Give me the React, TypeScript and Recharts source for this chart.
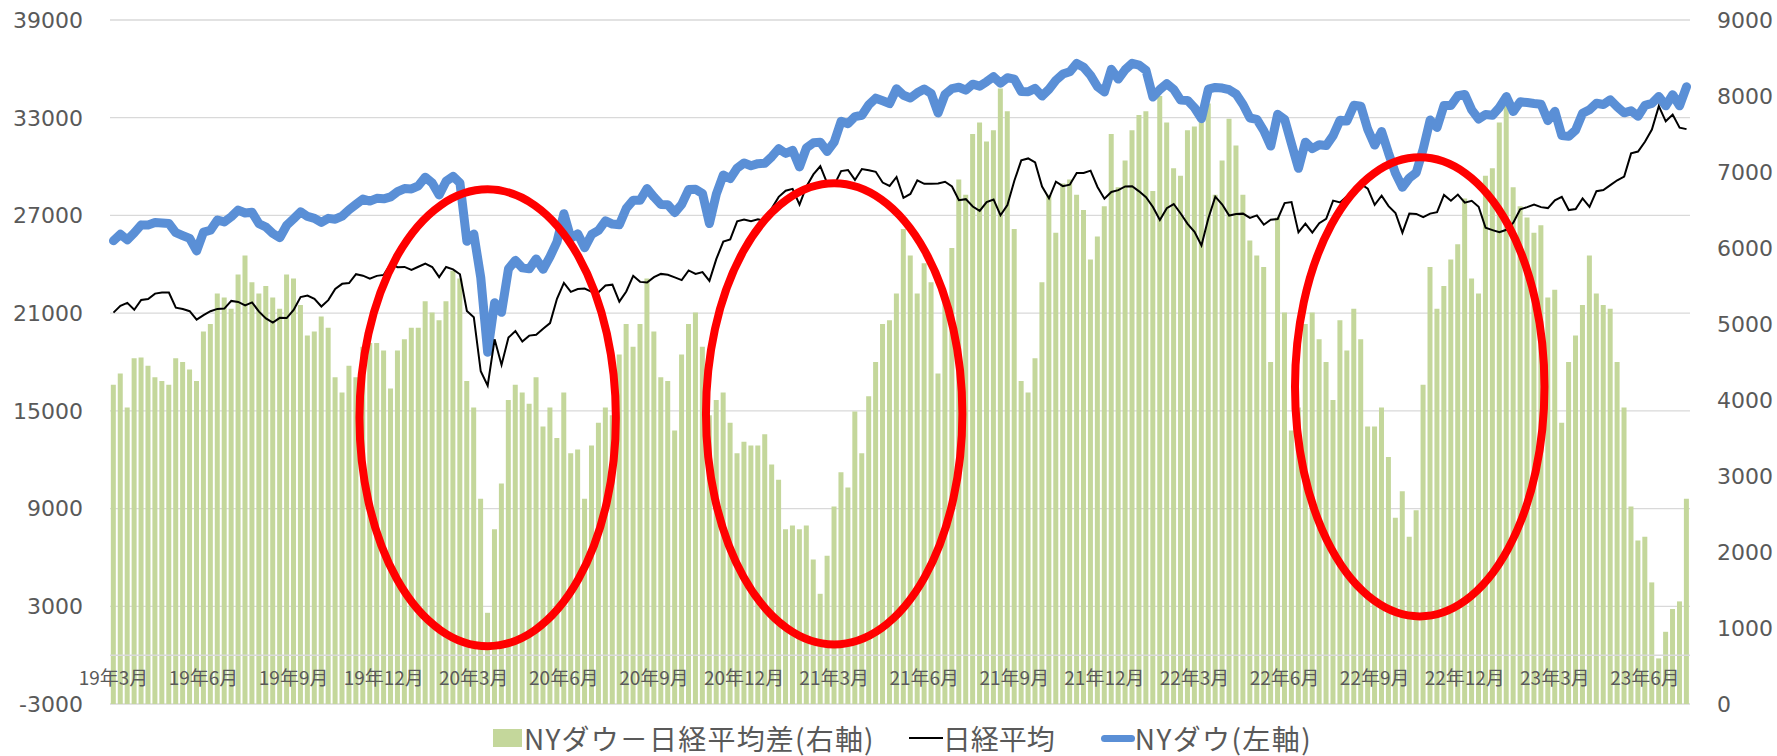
import React from 'react';
import {
  ComposedChart,
  Bar,
  Line,
  XAxis,
  YAxis,
  CartesianGrid,
  ReferenceLine,
  ReferenceArea,
  Legend,
} from 'recharts';

// weekly categories (month label of each weekly observation)
const weekLabels: string[] = [
  '19年3月', '19年3月', '19年3月', '19年3月',
  '19年4月', '19年4月', '19年4月', '19年4月',
  '19年5月', '19年5月', '19年5月', '19年5月', '19年5月',
  '19年6月', '19年6月', '19年6月', '19年6月',
  '19年7月', '19年7月', '19年7月', '19年7月',
  '19年8月', '19年8月', '19年8月', '19年8月', '19年8月',
  '19年9月', '19年9月', '19年9月', '19年9月',
  '19年10月', '19年10月', '19年10月', '19年10月',
  '19年11月', '19年11月', '19年11月', '19年11月', '19年11月',
  '19年12月', '19年12月', '19年12月', '19年12月',
  '20年1月', '20年1月', '20年1月', '20年1月', '20年1月',
  '20年2月', '20年2月', '20年2月', '20年2月',
  '20年3月', '20年3月', '20年3月', '20年3月',
  '20年4月', '20年4月', '20年4月', '20年4月',
  '20年5月', '20年5月', '20年5月', '20年5月', '20年5月',
  '20年6月', '20年6月', '20年6月', '20年6月',
  '20年7月', '20年7月', '20年7月', '20年7月', '20年7月',
  '20年8月', '20年8月', '20年8月', '20年8月',
  '20年9月', '20年9月', '20年9月', '20年9月',
  '20年10月', '20年10月', '20年10月', '20年10月', '20年10月',
  '20年11月', '20年11月', '20年11月', '20年11月',
  '20年12月', '20年12月', '20年12月', '20年12月',
  '21年1月', '21年1月', '21年1月', '21年1月', '21年1月',
  '21年2月', '21年2月', '21年2月', '21年2月',
  '21年3月', '21年3月', '21年3月', '21年3月',
  '21年4月', '21年4月', '21年4月', '21年4月', '21年4月',
  '21年5月', '21年5月', '21年5月', '21年5月',
  '21年6月', '21年6月', '21年6月', '21年6月',
  '21年7月', '21年7月', '21年7月', '21年7月', '21年7月',
  '21年8月', '21年8月', '21年8月', '21年8月',
  '21年9月', '21年9月', '21年9月', '21年9月',
  '21年10月', '21年10月', '21年10月', '21年10月', '21年10月',
  '21年11月', '21年11月', '21年11月', '21年11月',
  '21年12月', '21年12月', '21年12月', '21年12月', '21年12月',
  '22年1月', '22年1月', '22年1月', '22年1月',
  '22年2月', '22年2月', '22年2月', '22年2月',
  '22年3月', '22年3月', '22年3月', '22年3月',
  '22年4月', '22年4月', '22年4月', '22年4月', '22年4月',
  '22年5月', '22年5月', '22年5月', '22年5月',
  '22年6月', '22年6月', '22年6月', '22年6月',
  '22年7月', '22年7月', '22年7月', '22年7月', '22年7月',
  '22年8月', '22年8月', '22年8月', '22年8月',
  '22年9月', '22年9月', '22年9月', '22年9月', '22年9月',
  '22年10月', '22年10月', '22年10月', '22年10月',
  '22年11月', '22年11月', '22年11月', '22年11月',
  '22年12月', '22年12月', '22年12月', '22年12月', '22年12月',
  '23年1月', '23年1月', '23年1月', '23年1月',
  '23年2月', '23年2月', '23年2月', '23年2月',
  '23年3月', '23年3月', '23年3月', '23年3月', '23年3月',
  '23年4月', '23年4月', '23年4月', '23年4月',
  '23年5月', '23年5月', '23年5月', '23年5月',
  '23年6月', '23年6月', '23年6月', '23年6月', '23年6月',
  '23年7月', '23年7月',
];

// NY Dow (left axis)
const dow: number[] = [
  25450, 25850, 25500, 25930,
  26420, 26410, 26560, 26540,
  26500, 25940, 25760, 25590, 24820,
  25980, 26090, 26720, 26600,
  26920, 27330, 27150, 27190,
  26490, 26290, 25890, 25630, 26400,
  26800, 27220, 26940, 26820,
  26570, 26820, 26770, 26960,
  27350, 27680, 28000, 27880, 28050,
  28020, 28140, 28460, 28650,
  28630, 28820, 29350, 28990, 28260,
  29100, 29400, 28990, 25410,
  25860, 23190, 18600, 21640,
  21050, 23720, 24240, 23780,
  23720, 24330, 23690, 24470, 25380,
  27110, 25610, 25870, 25020,
  25830, 26080, 26670, 26470, 26430,
  27430, 27930, 27930, 28650,
  28130, 27670, 27660, 27170,
  27680, 28590, 28610, 28340, 26500,
  28320, 29480, 29260, 29910,
  30220, 30050, 30180, 30200,
  30610, 31100, 30810, 31000, 29980,
  31150, 31460, 31490, 30930,
  31500, 32780, 32630, 33070,
  33150, 33800, 34200, 34040, 33870,
  34780, 34380, 34210, 34530,
  34760, 34480, 33290, 34430,
  34790, 34870, 34690, 35060, 34940,
  35210, 35520, 35120, 35460,
  35370, 34610, 34590, 34800,
  34330, 34750, 35300, 35680, 35820,
  36330, 36100, 35600, 34900,
  34580, 35970, 35370, 35950, 36340,
  36230, 35910, 34270, 34730,
  35090, 34740, 34080, 34060,
  33610, 32940, 34750, 34860,
  34820, 34720, 34450, 33810, 32980,
  32900, 32200, 31260, 33210,
  32900, 31390, 29890, 31500,
  31100, 31340, 31290, 31900, 32850,
  32800, 33760, 33710, 32280,
  31320, 32150, 30820, 29590, 28730,
  29300, 29630, 31080, 32860,
  32400, 33750, 33750, 34350,
  34430, 33480, 32920, 33200, 33150,
  33630, 34300, 33380, 33980,
  33930, 33870, 33830, 32820,
  33390, 31910, 31860, 32240, 33270,
  33490, 33890, 33810, 34100,
  33670, 33300, 33430, 33090,
  33760, 33880, 34300, 33730, 34410,
  33730, 34900,
];

// Nikkei 225 (left axis)
const nikkei: number[] = [
  21030, 21450, 21630, 21210,
  21810, 21870, 22200, 22260,
  22260, 21340, 21250, 21120, 20600,
  20880, 21120, 21260, 21280,
  21750, 21690, 21470, 21660,
  21090, 20680, 20420, 20710, 20700,
  21200, 21990, 22080, 21880,
  21410, 21800, 22490, 22800,
  22850, 23390, 23300, 23110, 23290,
  23350, 24020, 23820, 23840,
  23660, 23850, 24040, 23830, 23210,
  23830, 23690, 23390, 21140,
  20750, 17430, 16550, 19390,
  17820, 19500, 19900, 19260,
  19620, 19670, 20040, 20390, 21880,
  22860, 22310, 22480, 22510,
  22310, 22290, 22700, 22750, 21710,
  22330, 23290, 22920, 22880,
  23210, 23410, 23360, 23200,
  23030, 23620, 23410, 23520, 22980,
  24330, 25390, 25530, 26640,
  26750, 26650, 26760, 26660,
  27440, 28140, 28520, 28630, 27660,
  28780, 29520, 30020, 28970,
  28860, 29720, 29790, 29180,
  29850, 29770, 29680, 29020, 28810,
  29360, 28080, 28320, 29150,
  28940, 28950, 28960, 29070,
  28780, 27940, 28000, 27550, 27280,
  27820, 27980, 27010, 27640,
  29130, 30380, 30500, 30250,
  28770, 28050, 29070, 28800, 28890,
  29610, 29610, 29750, 28750,
  28030, 28440, 28550, 28780, 28790,
  28480, 28120, 27520, 26720,
  27440, 27700, 27120, 26480,
  25990, 25160, 26830, 28150,
  27670, 26990, 27090, 27110, 26850,
  27000, 26430, 26740, 26780,
  27760, 27820, 25960, 26490,
  25940, 26520, 26790, 27910, 27800,
  28180, 28550, 28930, 28640,
  27650, 28210, 27570, 27150, 25940,
  27120, 27090, 26890, 27110,
  27200, 28260, 27900, 28280,
  27780, 27900, 27530, 26240, 26100,
  25970, 26120, 26550, 27380,
  27510, 27670, 27510, 27450,
  27930, 28140, 27330, 27390, 28040,
  27520, 28490, 28560, 28860,
  29160, 29390, 30810, 30920,
  31520, 32270, 33710, 32780, 33190,
  32390, 32300,
];

// NY Dow minus Nikkei (right axis)
const spread: number[] = [
  4200, 4350, 3900, 4550,
  4560, 4450, 4300, 4250,
  4200, 4550, 4500, 4400, 4250,
  4900, 5000, 5400, 5350,
  5200, 5650, 5900, 5550,
  5400, 5500, 5350, 5200, 5650,
  5600, 5250, 4850, 4900,
  5100, 4950, 4300, 4100,
  4450, 4300, 4700, 4750, 4750,
  4650, 4150, 4650, 4800,
  4950, 4950, 5300, 5150, 5050,
  5300, 5700, 5600, 4250,
  3900, 2700, 1200, 2300,
  2900, 4000, 4200, 4100,
  3950, 4300, 3650, 3900, 3500,
  4100, 3300, 3350, 2700,
  3400, 3700, 3900, 3800, 4600,
  5000, 4700, 5000, 5600,
  4900, 4300, 4250, 3600,
  4600, 5000, 5150, 4700, 3800,
  4000, 4100, 3700, 3300,
  3450, 3400, 3400, 3550,
  3150, 2950, 2300, 2350, 2300,
  2350, 1900, 1450, 1950,
  2600, 3050, 2850, 3850,
  3300, 4050, 4500, 5000, 5050,
  5400, 6250, 5900, 5400,
  5800, 5550, 4350, 5350,
  6000, 6900, 6700, 7500, 7650,
  7400, 7550, 8100, 7800,
  6250, 4250, 4100, 4550,
  5550, 6700, 6200, 6850, 6900,
  6700, 6500, 5850, 6150,
  6550, 7500, 6800, 7150, 7550,
  7750, 7800, 6750, 8000,
  7650, 7050, 6950, 7550,
  7600, 7750, 7900, 6700,
  7150, 7700, 7350, 6700, 6100,
  5900, 5750, 4500, 6400,
  5150, 3600, 3900, 5000,
  5150, 4800, 4500, 4000, 5050,
  4650, 5200, 4800, 3650,
  3650, 3900, 3250, 2450, 2800,
  2200, 2550, 4200, 5750,
  5200, 5500, 5850, 6050,
  6650, 5600, 5400, 6950, 7050,
  7650, 7900, 6800, 6550,
  6400, 6200, 6300, 5350,
  5450, 3700, 4500, 4850, 5250,
  5900, 5400, 5250, 5200,
  4500, 3900, 2600, 2150,
  2200, 1600, 600, 950, 1250,
  1350, 2700,
];

const leftTicks = [-3000, 3000, 9000, 15000, 21000, 27000, 33000, 39000];
const rightTicks = [0, 1000, 2000, 3000, 4000, 5000, 6000, 7000, 8000, 9000];

// highlighted periods (week index range, left-axis value range)
const highlights = [
  { from: 36, to: 72, low: 550, high: 28600 },
  { from: 86, to: 122, low: 660, high: 28970 },
  { from: 171, to: 206, low: 2380, high: 30570 },
];

const legendLabels = {
  spread: 'NYダウ－日経平均差(右軸)',
  nikkei: '日経平均',
  dow: 'NYダウ(左軸)',
};

const GREEN = '#c4d79b';
const BLUE = '#5a8fd6';
const TEXT = '#595959';
const GRID = '#d9d9d9';

const data = weekLabels.map((label, i) => ({
  idx: i,
  label,
  dow: dow[i],
  nikkei: nikkei[i],
  spread: spread[i],
}));

const XTick = (props: any) => {
  const { x, y, payload } = props;
  return (
    <text
      x={x}
      y={y - 28}
      textAnchor="middle"
      dominantBaseline="central"
      fill={TEXT}
      fontSize={19}
      fontFamily='"Noto Sans CJK JP", sans-serif'
    >
      {weekLabels[payload.value]}
    </text>
  );
};

const EllipseShape = (props: any) => {
  const { x, y, width, height } = props;
  if (x == null || y == null) return null;
  return (
    <ellipse
      cx={x + width / 2}
      cy={y + height / 2}
      rx={Math.abs(width) / 2}
      ry={Math.abs(height) / 2}
      fill="none"
      stroke="#ff0000"
      strokeWidth={8}
    />
  );
};

const LegendContent = () => (
  <div
    style={{
      display: 'flex',
      justifyContent: 'center',
      alignItems: 'center',
      height: 32,
      paddingLeft: 28,
      fontFamily: '"Noto Sans CJK JP", sans-serif',
      fontSize: 28,
      color: TEXT,
      whiteSpace: 'nowrap',
      lineHeight: 1,
      boxSizing: 'border-box',
    }}
  >
    <span style={{ display: 'inline-block', width: 29, height: 18, background: GREEN, marginRight: 2 }} />
    <span style={{ letterSpacing: 1.2 }}>{legendLabels.spread}</span>
    <span style={{ display: 'inline-block', width: 34 }} />
    <span style={{ display: 'inline-block', width: 34, height: 2, background: '#000' }} />
    <span>{legendLabels.nikkei}</span>
    <span style={{ display: 'inline-block', width: 46 }} />
    <span style={{ display: 'inline-block', width: 34, height: 7, borderRadius: 4, background: BLUE }} />
    <span style={{ letterSpacing: 1.4 }}>{legendLabels.dow}</span>
  </div>
);

export default function App() {
  return (
    <div style={{ position: 'absolute', left: 0, top: 0, width: 1777, height: 756, background: '#fff' }}>
      <ComposedChart
        width={1777}
        height={756}
        data={data}
        margin={{ top: 20, right: 0, bottom: 0, left: 0 }}
        barCategoryGap="12%"
      >
        <CartesianGrid vertical={false} stroke={GRID} strokeWidth={1.3} yAxisId="left" />
        <XAxis
          dataKey="idx"
          type="category"
          interval={12}
          height={20}
          axisLine={false}
          tickLine={false}
          tickSize={0}
          tickMargin={0}
          tick={<XTick />}
        />
        <YAxis
          yAxisId="left"
          orientation="left"
          domain={[-3000, 39000]}
          ticks={leftTicks}
          interval={0}
          width={110}
          axisLine={false}
          tickLine={false}
          tickMargin={21}
          tick={{ fill: TEXT, fontSize: 22, fontFamily: '"DejaVu Sans", sans-serif' }}
        />
        <YAxis
          yAxisId="right"
          orientation="right"
          domain={[0, 9000]}
          ticks={rightTicks}
          interval={0}
          width={87}
          axisLine={false}
          tickLine={false}
          tickMargin={21}
          tick={{ fill: TEXT, fontSize: 22, fontFamily: '"DejaVu Sans", sans-serif' }}
        />
        <Bar dataKey="spread" yAxisId="right" fill={GREEN} isAnimationActive={false} />
        <ReferenceLine y={0} yAxisId="left" stroke={GRID} strokeWidth={1.5} />
        <Line
          dataKey="dow"
          yAxisId="left"
          stroke={BLUE}
          strokeWidth={9}
          strokeLinejoin="round"
          strokeLinecap="round"
          dot={false}
          activeDot={false}
          isAnimationActive={false}
        />
        <Line
          dataKey="nikkei"
          yAxisId="left"
          stroke="#000000"
          strokeWidth={2}
          dot={false}
          activeDot={false}
          isAnimationActive={false}
        />
        {highlights.map((h, k) => (
          <ReferenceArea
            key={k}
            yAxisId="left"
            x1={h.from}
            x2={h.to}
            y1={h.low}
            y2={h.high}
            ifOverflow="visible"
            shape={EllipseShape}
            zIndex={2000}
          />
        ))}
        <Legend
          verticalAlign="bottom"
          height={34}
          content={<LegendContent />}
          wrapperStyle={{ left: 0, width: 1777, bottom: 2, height: 32 }}
        />
      </ComposedChart>
    </div>
  );
}
